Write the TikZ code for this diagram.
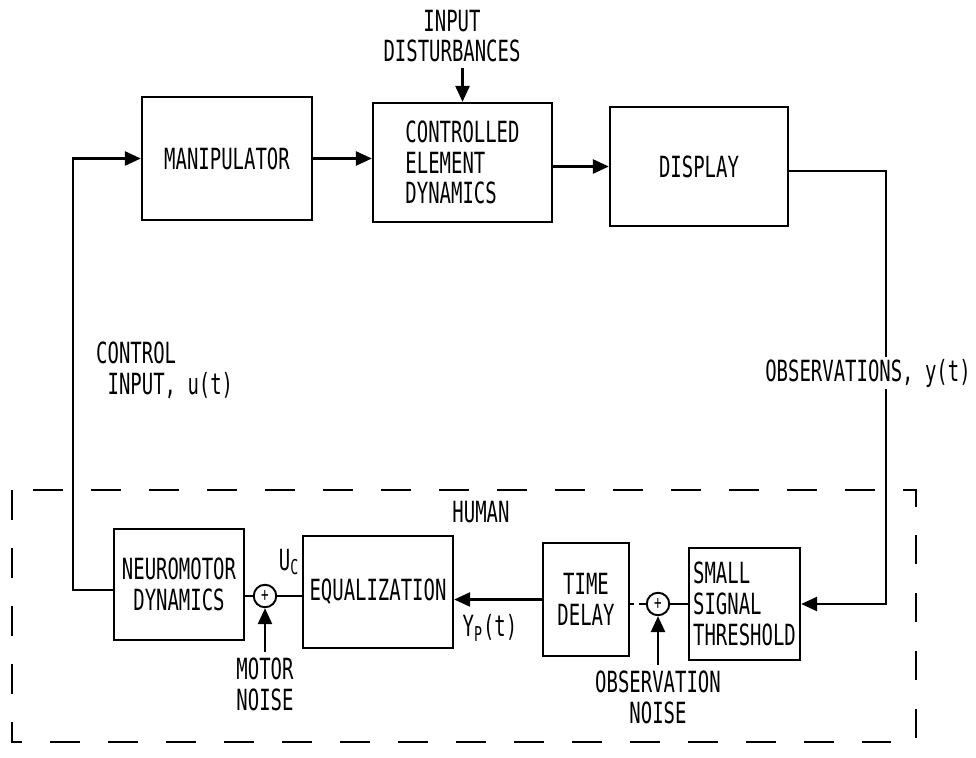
\documentclass[tikz,border=0pt]{standalone}
\usepackage{fontspec}
\setmainfont[FakeStretch=0.65]{DejaVu Sans Mono}
\usepackage{tikz}
\usetikzlibrary{arrows.meta, positioning, calc}

\begin{document}
\begin{tikzpicture}[
    x=0.02cm, y=-0.02cm,
    every node/.style={font=\fontsize{16.6}{17.5}\selectfont},
    block/.style={rectangle, draw=black, line width=1.4pt, align=center, inner sep=2pt},
    sumj/.style={circle, draw=black, line width=1.1pt, minimum size=0.45cm, inner sep=0pt, font=\fontsize{11}{11}\selectfont},
    sig/.style={-{Triangle[length=9pt,width=8pt]}, line width=1.2pt},
    wire/.style={line width=1.2pt},
    lbl/.style={align=center},
    human/.style={dash pattern=on 17pt off 16pt, line width=1.1pt}
]
\useasboundingbox (0,0) rectangle (976,757);

% Lazo principal
\node[block, minimum width=3.4cm, minimum height=2.46cm] (manip) at (227,158.5) {MANIPULATOR};
\node[block, minimum width=3.58cm, minimum height=2.38cm, align=left] (ced) at (462.5,162.5) {CONTROLLED\\ELEMENT\\DYNAMICS};
\node[block, minimum width=3.56cm, minimum height=2.38cm] (disp) at (699,166.5) {DISPLAY};

\node[lbl] (dist) at (452,36) {INPUT\\DISTURBANCES};
\draw[sig] (dist.south -| ced.north) -- (ced.north);

\draw[sig] (manip.east) -- (manip.east -| ced.west);
\draw[sig] (disp.west -| ced.east) -- (disp.west);

% Operador humano
\draw[human] (12,490) rectangle (916,742);
\node (hum) at (481,512) {HUMAN};

\node[block, minimum width=2.6cm, minimum height=2.22cm] (neuro) at (179,584.5) {NEUROMOTOR\\DYNAMICS};
\node[block, minimum width=3.0cm, minimum height=2.24cm] (eq) at (378,592) {EQUALIZATION};
\node[block, minimum width=1.72cm, minimum height=2.26cm] (td) at (586,599.5) {TIME\\DELAY};
\node[block, minimum width=2.22cm, minimum height=2.24cm, align=left] (sst) at (744.5,604) {SMALL\\SIGNAL\\THRESHOLD};

\node[sumj] (j1) at (265,596) {+};
\node[sumj] (j2) at (658,604) {+};

% Senales dentro del humano
\draw[sig] (td.west) -- (td.west -| eq.east);
\draw[wire] (sst.west |- j2.east) -- (j2.east);
\draw[wire, dash pattern=on 4pt off 2.5pt] (j2.west) -- (j2.west -| td.east);
\draw[wire] (eq.west |- j1.east) -- (j1.east);
\draw[wire] (j1.west) -- (j1.west -| neuro.east);

\coordinate (mn) at (265,652);
\coordinate (on) at (658,665);
\draw[sig] (mn) -- (j1.south);
\draw[sig] (on) -- (j2.south);
\node[lbl, below=0pt of mn] (mnl) {MOTOR\\NOISE};
\node[lbl, below=0pt of on] (onl) {OBSERVATION\\NOISE};

\node (uc) at (289,562) {U\textsubscript{C}};
\node (yp) at (490,628) {Y\textsubscript{P}(t)};

% Realimentaciones
\coordinate (obs) at (886,171);
\draw[sig] (disp.east |- obs) -- (obs) |- (sst.east);
\node[fill=white, inner sep=1pt] (obsl) at (868,373) {OBSERVATIONS, y(t)};

\coordinate (ctl) at (73,590);
\draw[sig] (neuro.west |- ctl) -- (ctl) |- (manip.west);
\node[anchor=west, align=left] (ctll) at (90,370) {CONTROL\\\ INPUT, u(t)};

\end{tikzpicture}
\end{document}
